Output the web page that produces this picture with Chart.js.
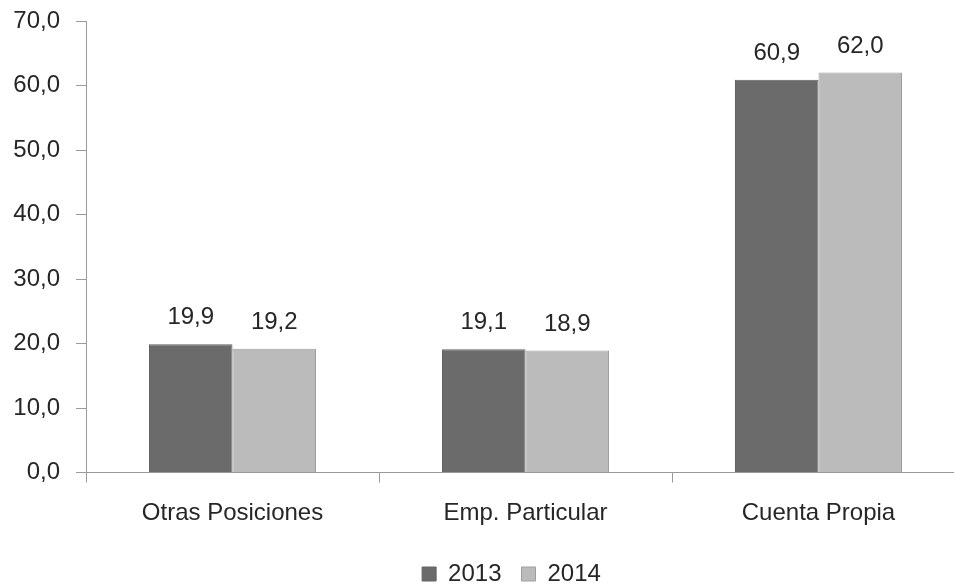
<!DOCTYPE html>
<html>
<head>
<meta charset="utf-8">
<script src="https://cdn.jsdelivr.net/npm/chart.js@4"></script>
<style>
  html, body { margin: 0; padding: 0; background: #ffffff; overflow: hidden; }
  #wrap { width: 966px; height: 587px; }
</style>
</head>
<body>
<div id="wrap"><canvas id="c" width="966" height="587"></canvas></div>
<script>
const categories = ['Otras Posiciones', 'Emp. Particular', 'Cuenta Propia'];
const seriesNames = ['2013', '2014'];
const values2013 = [19.9, 19.1, 60.9];
const values2014 = [19.2, 18.9, 62.0];
const yTicks = [0, 10, 20, 30, 40, 50, 60, 70];

const FONT = "'Liberation Sans', Arial, sans-serif";
const TEXT = '#262626';
const AXIS = '#9a9a9a';
const fmt = v => Number(v).toFixed(1).replace('.', ',');

const dataLabels = {
  id: 'dataLabels',
  afterDatasetsDraw(chart) {
    const ctx = chart.ctx;
    ctx.save();
    ctx.font = '24px ' + FONT;
    ctx.fillStyle = TEXT;
    ctx.textAlign = 'center';
    ctx.textBaseline = 'alphabetic';
    chart.data.datasets.forEach((ds, i) => {
      chart.getDatasetMeta(i).data.forEach((el, j) => {
        ctx.fillText(fmt(ds.data[j]), el.x, el.y - 20);
      });
    });
    ctx.restore();
  }
};

const legendShift = {
  id: 'legendShift',
  afterLayout(chart) {
    const l = chart.legend;
    if (!l) return;
    l.left += 29; l.right += 29;
    const h = l.height;
    l.top = 542; l.bottom = l.top + h;
  }
};

new Chart(document.getElementById('c'), {
  type: 'bar',
  data: {
    labels: categories,
    datasets: [
      { label: seriesNames[0], data: values2013, backgroundColor: '#6b6b6b', borderColor: '#626262', borderWidth: 1 },
      { label: seriesNames[1], data: values2014, backgroundColor: '#bbbbbb', borderColor: '#9e9e9e', borderWidth: 1 }
    ]
  },
  options: {
    responsive: false,
    animation: false,
    layout: { padding: { top: 21, right: 1, bottom: 0, left: 0 } },
    datasets: { bar: { categoryPercentage: 0.57, barPercentage: 1.0 } },
    scales: {
      x: {
        grid: { display: true, drawOnChartArea: false, offset: true, tickLength: 10, color: AXIS, lineWidth: 1 },
        border: { display: true, color: AXIS, width: 1 },
        ticks: { color: TEXT, font: { family: FONT, size: 24 }, padding: 16, maxRotation: 0 },
        afterFit(scale) { scale.height = 60.5; scale.paddingLeft = 0; scale.paddingRight = 0; }
      },
      y: {
        min: 0, max: 70,
        afterBuildTicks(scale) { scale.ticks = yTicks.map(v => ({ value: v })); },
        grid: { display: true, drawOnChartArea: false, tickLength: 10, color: AXIS, lineWidth: 1 },
        border: { display: true, color: AXIS, width: 1 },
        ticks: { color: TEXT, font: { family: FONT, size: 24 }, padding: 16, callback: v => fmt(v) },
        afterFit(scale) { scale.width = 86; scale.paddingTop = 0; scale.paddingBottom = 0; }
      }
    },
    plugins: {
      legend: {
        position: 'bottom',
        labels: { color: TEXT, font: { family: FONT, size: 24 }, boxWidth: 14, boxHeight: 14, padding: 20 }
      },
      tooltip: { enabled: false }
    }
  },
  plugins: [dataLabels, legendShift]
});
</script>
</body>
</html>
